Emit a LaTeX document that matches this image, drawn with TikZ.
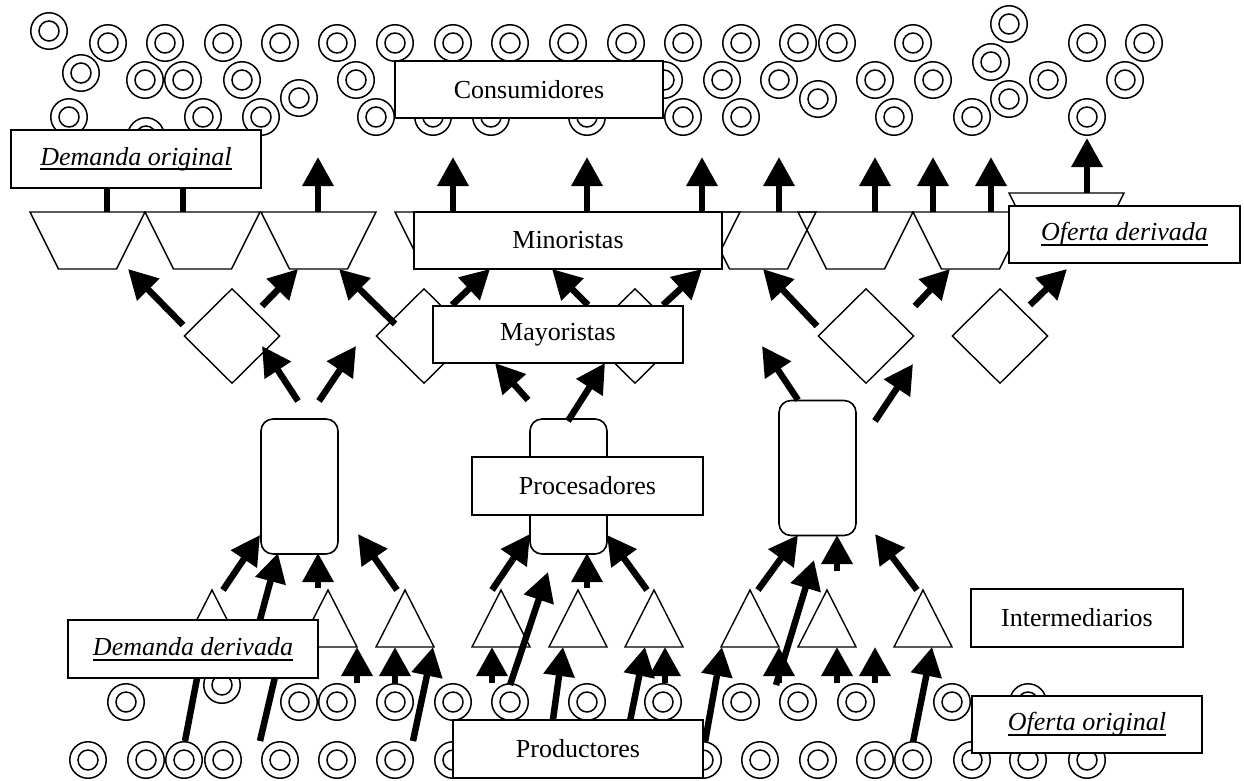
\documentclass[tikz,border=0pt]{standalone}
\usepackage{fontspec}
\setmainfont{Liberation Serif}
\usetikzlibrary{arrows.meta,shapes.geometric}
\newsavebox\ulbox
\newcommand\ulx[1]{\sbox\ulbox{#1}\rlap{\rule[-5pt]{\wd\ulbox}{2pt}}\usebox\ulbox}
\begin{document}
\begin{tikzpicture}[x=1pt,y=-1pt,
  dc/.style={circle,draw,fill=white,line width=1.5pt,minimum size=36.5pt,inner sep=0pt,
     path picture={\draw[line width=1.5pt] (path picture bounding box.center) circle (10pt);}},
  shp/.style={draw,line width=1.4pt},
  dia/.style={diamond,draw,line width=1.4pt,minimum width=96pt,minimum height=95pt,inner sep=0pt},
  procbox/.style={rectangle,draw,rounded corners=12pt,line width=1.6pt,minimum width=77pt,minimum height=135pt,inner sep=0pt},
  arr/.style={line width=6.5pt,-{Triangle[length=29pt,width=30pt]}},
  lbl/.style={draw,fill=white,line width=1.8pt,inner sep=0pt,font=\fontsize{26pt}{30pt}\selectfont},
]
\useasboundingbox (0,0) rectangle (1244,780);

% consumers (top)
\foreach \x/\y [count=\i] in {49/31,108/43,165/43,223/43,280/43,337/43,395/43,453/43,510/43,568/43,626/43,683/43,741/43,798/43,837/43,913/43,1009/24,1087/43,1144/43,
  81/73,145/80,183/80,242/80,299/98,356/80,664/80,722/80,779/80,818/99,875/80,933/80,991/62,1009/99,1048/80,1125/80,
  69/117,146/136,203/117,261/117,376/117,433/117,491/117,587/117,683/117,741/117,894/117,972/117,1087/117}
  \node[dc] (cons\i) at (\x,\y) {};

% producers (bottom)
\foreach \x/\y [count=\i] in {126/702,222/685,299/702,337/702,395/702,453/702,510/702,587/702,663/702,741/702,798/702,856/702,952/702,1028/702,
  88/760,146/760,184/760,223/760,280/760,337/760,395/760,453/760,703/760,760/760,818/760,875/760,913/760,972/760,1028/760,1087/760}
  \node[dc] (prodc\i) at (\x,\y) {};

% retailers (trapezoids)
\foreach \x in {30,145,261,395,510,625,701,798,913}
  \draw[shp] (\x,212) -- ++(115,0) -- ++(-28.5,57) -- ++(-58,0) -- cycle;
\draw[shp] (1009,193) -- ++(115,0) -- ++(-28.5,57) -- ++(-58,0) -- cycle;

% wholesalers (diamonds)
\foreach \x [count=\i] in {232,424,635,866,1000}
  \node[dia] (may\i) at (\x,336) {};

% processors
\node[procbox] (p1) at (299.5,486.5) {};
\node[procbox] (p2) at (568.5,486.5) {};
\node[procbox] (p3) at (817.5,468) {};

% intermediaries (triangles)
\foreach \x in {212,328,405,501,578,654,750,827,923}
  \draw[shp] (\x,590) -- ++(29,57) -- ++(-58,0) -- cycle;

% arrows
\foreach \a/\b/\c/\d in {
  107/212/107/157,183/212/183/157,318/212/318/157,453/212/453/157,587/212/587/157,
  702/212/702/157,779/212/779/157,875/212/875/157,933/212/933/157,991/212/991/157,1087/193/1087/138,
  183/325/128/269,262/306/298/269,395/324/339/269,452/305/490/269,588/305/552/269,
  663/305/702/269,817/326/763/269,915/306/950/269,1030/305/1067/269,
  298/401/262/346,319/401/356/346,528/400/495/363,568/421/605/363,798/400/762/346,875/421/913/364,
  223/590/260/535,318/588/318/553,397/590/358/534,492/590/530/534,587/588/587/553,
  647/590/607/535,758/590/798/535,837/571/837/535,917/590/875/534,
  357/683/357/647,395/683/395/647,492/683/492/647,665/683/665/647,779/683/779/647,
  837/683/837/647,875/683/875/647,
  413/741/433/647,550/741/563/647,626/741/645/647,705/742/722/647,913/742/932/647,
  185/741/203/647,260/741/282/647,254/642/278/553,
  510/685/548/572,776/685/814/560}
  \draw[arr] (\a,\b) -- (\c,\d);

% labels
\node[lbl,minimum width=268pt,minimum height=57pt] (consumidores) at (529,89.5) {Consumidores};
\node[lbl,minimum width=250pt,minimum height=58pt] (dorig) at (136,159) {\ulx{\textit{Demanda original}}};
\node[lbl,minimum width=308pt,minimum height=57pt] (minoristas) at (568,240.5) {Minoristas};
\node[lbl,minimum width=231pt,minimum height=57pt] (oder) at (1124.5,234.5) {\ulx{\textit{Oferta derivada}}};
\node[lbl,minimum width=250pt,minimum height=57pt] (mayoristas) at (558,334.5) {Mayoristas};
\node[lbl,minimum width=231pt,minimum height=58pt] (procesadores) at (587.5,486) {Procesadores};
\node[lbl,minimum width=212pt,minimum height=58pt] (intermediarios) at (1077,618) {Intermediarios};
\node[lbl,minimum width=250pt,minimum height=58pt] (dder) at (193,649) {\ulx{\textit{Demanda derivada}}};
\node[lbl,minimum width=230pt,minimum height=57pt] (oorig) at (1087,724.5) {\ulx{\textit{Oferta original}}};
\node[lbl,minimum width=250pt,minimum height=58pt] (productores) at (578,749) {Productores};
\end{tikzpicture}
\end{document}
